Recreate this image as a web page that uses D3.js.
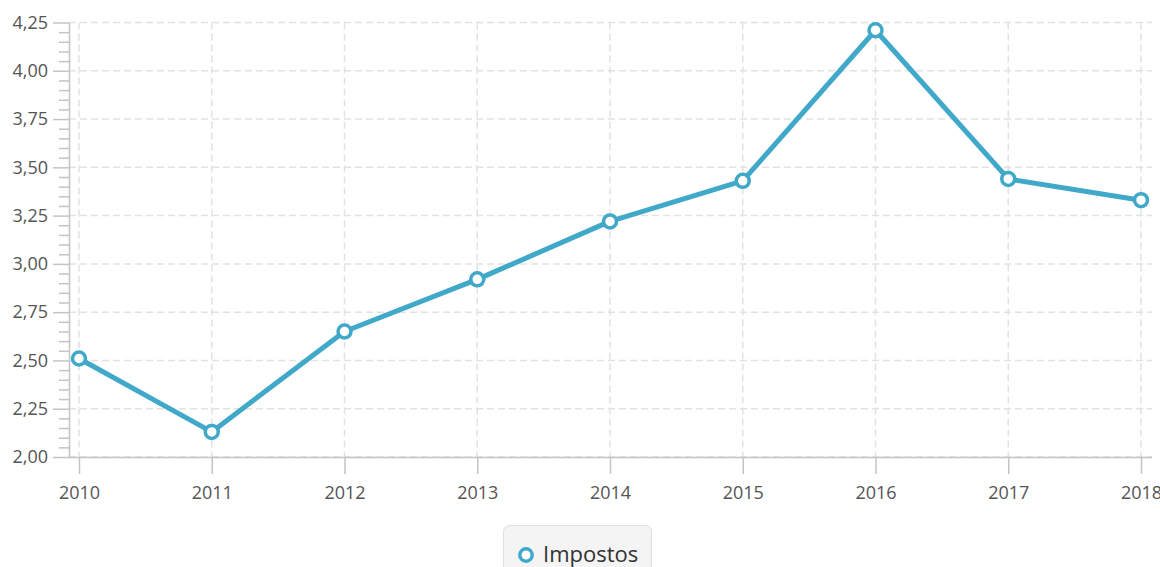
<!DOCTYPE html>
<html>
<head>
<meta charset="utf-8">
<script src="https://cdn.jsdelivr.net/npm/d3@7"></script>
<style>
    body { margin: 0; background: #fff; }
    svg { display: block; font-family: "Open Sans", "Noto Sans", sans-serif; }
    .axis text { fill: #555; font-size: 18px; font-family: "Open Sans", "Noto Sans", sans-serif; }
    .axis path, .axis line { stroke: #c4c4c4; stroke-width: 1.5; }
    .grid line { stroke: #e2e2e2; stroke-width: 1.5; stroke-dasharray: 7,4; }
</style>
</head>
<body>
<script>
// Chart data
const years = ["2010", "2011", "2012", "2013", "2014", "2015", "2016", "2017", "2018"];
const impostos = [2.51, 2.13, 2.65, 2.92, 3.22, 3.43, 4.21, 3.44, 3.33];
const yTicks = [2.00, 2.25, 2.50, 2.75, 3.00, 3.25, 3.50, 3.75, 4.00, 4.25];
const seriesName = "Impostos";

const width = 1160;
const height = 567;
const lineColor = "#40a8c9";

const svg = d3.select("body").append("svg").attr("width", width).attr("height", height);

// Scales
const xScale = d3.scalePoint().domain(years).range([79, 1141]);
const yScale = d3.scaleLinear().domain([2.0, 4.25]).range([457, 22.5]);

const ptBR = d3.formatLocale({decimal: ",", thousands: ".", grouping: [3], currency: ["R$", ""]});
const fmt = ptBR.format(".2f");

// Minor tick values: 4 between each pair of majors
const minorTicks = [];
for (let i = 0; i < yTicks.length - 1; i++) {
    for (let k = 1; k < 5; k++) {
        minorTicks.push(yTicks[i] + k * 0.05);
    }
}

// Grid lines
svg.append("g").attr("class", "grid")
    .selectAll("line.h")
    .data(yTicks)
    .enter()
    .append("line")
    .attr("x1", 69).attr("x2", 1152)
    .attr("y1", d => yScale(d)).attr("y2", d => yScale(d));

svg.append("g").attr("class", "grid")
    .selectAll("line.v")
    .data(years)
    .enter()
    .append("line")
    .attr("x1", d => xScale(d)).attr("x2", d => xScale(d))
    .attr("y1", yScale(4.25)).attr("y2", yScale(2.0));

// Y axis (major + minor)
svg.append("g")
    .attr("class", "axis")
    .attr("transform", "translate(69,0)")
    .call(d3.axisLeft(yScale).tickValues(minorTicks).tickSize(10).tickFormat(""))
    .call(g => g.select(".domain").remove());

svg.append("g")
    .attr("class", "axis")
    .attr("transform", "translate(69,0)")
    .call(d3.axisLeft(yScale).tickValues(yTicks).tickSize(16).tickSizeOuter(0).tickPadding(5).tickFormat(fmt));

// X axis
svg.append("g")
    .attr("class", "axis")
    .attr("transform", "translate(0,457)")
    .call(d3.axisBottom(xScale).tickSize(17).tickSizeOuter(0).tickPadding(12))
    .call(g => g.select(".domain").attr("d", "M69,0.5H1152"));

// Series line
const line = d3.line()
    .x((d, i) => xScale(years[i]))
    .y(d => yScale(d));

svg.append("path")
    .datum(impostos)
    .attr("d", line)
    .attr("fill", "none")
    .attr("stroke", lineColor)
    .attr("stroke-width", 5)
    .attr("stroke-linejoin", "round");

svg.selectAll("circle.pt")
    .data(impostos)
    .enter()
    .append("circle")
    .attr("class", "pt")
    .attr("cx", (d, i) => xScale(years[i]))
    .attr("cy", d => yScale(d))
    .attr("r", 6.5)
    .attr("fill", "#fff")
    .attr("stroke", lineColor)
    .attr("stroke-width", 3.5);

// Legend
const legend = svg.append("g").attr("id", "legend");

legend.append("rect")
    .attr("x", 503.5).attr("y", 525.5)
    .attr("width", 148).attr("height", 60)
    .attr("rx", 6)
    .attr("fill", "#f4f4f4")
    .attr("stroke", "#e0e0e0");

legend.append("circle")
    .attr("cx", 526).attr("cy", 555)
    .attr("r", 6.2)
    .attr("fill", "#fff")
    .attr("stroke", lineColor)
    .attr("stroke-width", 3.5);

legend.append("text")
    .attr("x", 543).attr("y", 562)
    .attr("fill", "#333")
    .style("font-size", "22px")
    .text(seriesName);
</script>
</body>
</html>
